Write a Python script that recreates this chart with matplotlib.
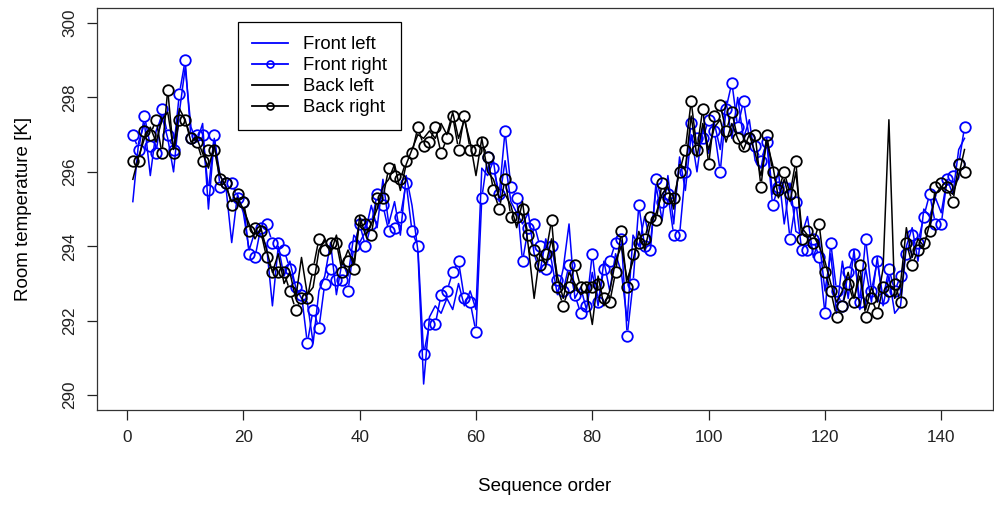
import matplotlib.pyplot as plt
import numpy as np
from matplotlib.collections import LineCollection
from matplotlib.lines import Line2D

plt.rcParams['font.family'] = ['Liberation Sans', 'DejaVu Sans']

seq = np.arange(1, 145)

front_left = [
    295.2, 296.8, 297.3, 295.9, 297.1, 297.5, 296.9, 296.0, 297.6, 298.8,
    297.2, 296.8, 297.3, 295.0, 296.9, 295.9, 295.6, 294.1, 295.4, 294.9,
    293.9, 294.4, 294.3, 294.0, 292.4, 294.0, 293.2, 293.6, 292.9, 292.6,
    292.5, 291.4, 292.8, 293.2, 294.1, 292.7, 293.6, 293.2, 294.3, 294.1,
    294.4, 295.1, 294.5, 295.8, 294.6, 295.2, 294.3, 295.9, 295.1, 293.9,
    290.3, 292.1, 292.4, 292.2, 292.6, 292.3, 293.0, 292.4, 292.8, 292.3,
    296.1, 295.9, 296.3, 295.2, 296.3, 295.2, 294.9, 294.6, 294.9, 293.8,
    293.3, 294.2, 293.6, 292.7, 293.4, 294.6, 292.6, 292.9, 292.3, 293.3,
    292.4, 293.6, 292.8, 293.8, 293.3, 292.0, 294.3, 294.0, 294.8, 294.1,
    295.6, 294.7, 295.9, 294.6, 296.4, 295.5, 297.0, 296.0, 297.2, 296.5,
    297.3, 296.6, 297.9, 296.9, 298.0, 296.9, 297.4, 296.3, 296.1, 296.9,
    295.4, 296.0, 294.6, 295.7, 294.4, 294.3, 294.8, 293.7, 294.2, 292.8,
    293.8, 292.2, 293.6, 292.6, 293.9, 292.3, 293.4, 292.5, 293.7, 292.4,
    293.2, 292.2, 292.4, 294.0, 294.5, 293.6, 295.0, 294.8, 295.3, 294.9,
    295.8, 295.4, 296.6, 296.9,
]

front_right = [
    297.0, 296.6, 297.5, 296.7, 296.5, 297.7, 297.0, 296.6, 298.1, 299.0,
    296.9, 297.0, 297.0, 295.5, 297.0, 295.6, 295.7, 295.7, 295.3, 295.2,
    293.8, 293.7, 294.5, 294.6, 294.1, 294.1, 293.9, 293.4, 292.9, 292.7,
    291.4, 292.3, 291.8, 293.0, 293.4, 293.1, 293.1, 292.8, 294.0, 294.6,
    294.0, 294.6, 295.4, 295.1, 294.4, 294.5, 294.8, 295.7, 294.4, 294.0,
    291.1, 291.9, 291.9, 292.7, 292.8, 293.3, 293.6, 292.6, 292.5, 291.7,
    295.3, 296.4, 296.1, 295.4, 297.1, 295.6, 295.3, 293.6, 294.5, 294.6,
    294.0, 293.4, 294.0, 293.1, 292.8, 293.5, 292.7, 292.2, 292.4, 293.8,
    292.5, 293.4, 293.6, 294.1, 294.2, 291.6, 293.0, 295.1, 294.0, 293.9,
    295.8, 295.2, 295.4, 294.3, 294.3, 296.0, 297.3, 296.9, 296.9, 297.4,
    297.1, 296.0, 297.7, 298.4, 297.2, 297.9, 296.9, 296.7, 296.3, 296.8,
    295.1, 295.6, 295.6, 294.2, 295.2, 293.9, 293.9, 294.2, 293.7, 292.2,
    294.1, 292.8, 292.4, 293.3, 293.8, 292.5, 294.2, 292.8, 293.6, 292.6,
    293.4, 292.8, 293.2, 293.8, 294.3, 294.1, 294.8, 295.4, 294.6, 294.6,
    295.8, 295.9, 296.2, 297.2,
]

back_left = [
    295.8, 296.4, 296.9, 297.2, 296.8, 297.4, 297.6, 296.6, 297.7, 297.4,
    296.8, 296.9, 296.5, 296.1, 296.7, 295.9, 295.6, 295.2, 295.3, 295.0,
    294.6, 294.2, 294.5, 293.9, 293.3, 293.8, 293.0, 293.3, 292.6, 293.7,
    292.7, 292.9, 293.9, 294.2, 293.8, 294.3, 293.5, 293.9, 293.5, 294.8,
    294.3, 294.6, 295.0, 295.6, 295.8, 296.2, 295.5, 296.2, 296.6, 297.0,
    296.9, 297.1, 296.9, 297.3, 297.0, 297.6, 296.9, 297.4, 296.8, 295.9,
    296.9, 296.0, 295.8, 295.3, 295.4, 295.1, 294.5, 295.2, 294.0, 292.6,
    293.8, 293.5, 294.2, 293.2, 292.6, 293.3, 293.0, 292.7, 292.8, 291.9,
    293.2, 292.4, 292.8, 293.6, 294.0, 293.1, 293.6, 294.4, 293.9, 294.6,
    294.9, 295.4, 295.6, 295.0, 296.2, 296.1, 297.5, 296.4, 297.3, 296.6,
    297.2, 297.4, 296.8, 297.3, 296.9, 296.6, 297.0, 296.5, 295.9, 296.8,
    296.2, 295.3, 295.8, 295.2, 296.0, 294.5, 294.3, 294.3, 294.0, 293.6,
    293.0, 292.5, 292.8, 293.3, 292.6, 293.2, 292.3, 292.9, 292.5, 293.4,
    297.4, 292.6, 293.0, 294.5, 293.7, 294.2, 294.0, 294.6, 295.4, 295.6,
    295.5, 295.4, 295.9, 296.6,
]

back_right = [
    296.3, 296.3, 297.1, 297.0, 297.4, 296.5, 298.2, 296.5, 297.4, 297.4,
    296.9, 296.8, 296.3, 296.6, 296.6, 295.8, 295.7, 295.1, 295.4, 295.2,
    294.4, 294.5, 294.4, 293.7, 293.3, 293.3, 293.3, 292.8, 292.3, 292.6,
    292.6, 293.4, 294.2, 293.9, 294.1, 294.1, 293.3, 293.6, 293.4, 294.7,
    294.6, 294.3, 295.3, 295.3, 296.1, 295.9, 295.8, 296.3, 296.5, 297.2,
    296.7, 296.8, 297.2, 296.5, 296.9, 297.5, 296.6, 297.5, 296.6, 296.6,
    296.8, 296.4, 295.5, 295.0, 295.8, 294.8, 294.8, 295.0, 294.3, 293.9,
    293.5, 293.8, 294.7, 292.9, 292.4, 292.9, 293.5, 292.9, 292.9, 292.9,
    293.0, 292.6, 292.5, 293.3, 294.4, 292.9, 293.8, 294.1, 294.2, 294.8,
    294.7, 295.7, 295.3, 295.3, 296.0, 296.6, 297.9, 296.6, 297.7, 296.2,
    297.5, 297.8, 297.1, 297.6, 296.9, 296.7, 296.9, 297.0, 295.6, 297.0,
    296.0, 295.5, 296.0, 295.4, 296.3, 294.2, 294.4, 294.1, 294.6, 293.3,
    292.8, 292.1, 292.4, 293.0, 292.5, 293.5, 292.1, 292.6, 292.2, 292.9,
    292.8, 293.0, 292.5, 294.1, 293.5, 293.9, 294.1, 294.4, 295.6, 295.7,
    295.6, 295.2, 296.2, 296.0,
]


def gapped_segments(ax, x, y, gap_px):
    # R type="b": line segments stop short of each point
    trans = ax.transData
    pts = trans.transform(np.column_stack([x, y]))
    segs = []
    for p0, p1 in zip(pts[:-1], pts[1:]):
        d = p1 - p0
        length = np.hypot(d[0], d[1])
        if length <= 2 * gap_px:
            continue
        u = d / length
        a = p0 + u * gap_px
        b = p1 - u * gap_px
        segs.append(trans.inverted().transform(np.array([a, b])))
    return segs


fig = plt.figure(figsize=(9.95, 5.05), dpi=100)
ax = fig.add_axes([0.0975, 0.188, 0.9005, 0.796])
ax.set_xlim(-5.16, 148.9)
ax.set_ylim(289.6, 300.4)

ms = 7.6
gap = 5.5
ax.plot(seq, front_left, color='blue', lw=1.1)
ax.add_collection(LineCollection(gapped_segments(ax, seq, front_right, gap),
                                 colors='blue', linewidths=1.1))
ax.plot(seq, front_right, ls='none', marker='o', ms=ms, mfc='none',
        mec='blue', mew=1.3)
ax.plot(seq, back_left, color='black', lw=1.1)
ax.add_collection(LineCollection(gapped_segments(ax, seq, back_right, gap),
                                 colors='black', linewidths=1.1))
ax.plot(seq, back_right, ls='none', marker='o', ms=ms, mfc='none',
        mec='black', mew=1.3)

ax.set_xticks(np.arange(0, 141, 20))
ax.set_yticks(np.arange(290, 301, 2))
ax.tick_params(direction='out', length=7, width=0.9, labelsize=12.3,
               colors='#222222', pad=7)
for lab in ax.get_yticklabels():
    lab.set_rotation(90)
    lab.set_va('center')
for s in ax.spines.values():
    s.set_color('#333333')
    s.set_linewidth(0.9)

ax.set_xlabel('Sequence order', fontsize=13.5, labelpad=24)
ax.set_ylabel('Room temperature [K]', fontsize=13.5, labelpad=22)

handles = [
    Line2D([], [], color='blue', lw=1.3),
    Line2D([], [], color='blue', lw=1.3, marker='o', ms=5, mfc='none', mew=1.2),
    Line2D([], [], color='black', lw=1.3),
    Line2D([], [], color='black', lw=1.3, marker='o', ms=5, mfc='none', mew=1.2),
]
labels = ['Front left', 'Front right', 'Back left', 'Back right']
leg = ax.legend(handles, labels, loc='upper left', bbox_to_anchor=(0.157, 0.965),
                fontsize=13.3, fancybox=False, framealpha=1, edgecolor='black',
                borderaxespad=0, handlelength=2.0, labelspacing=0.22,
                borderpad=0.75, handletextpad=0.8)
leg.get_frame().set_linewidth(0.9)

plt.savefig('out.png', dpi=100)
